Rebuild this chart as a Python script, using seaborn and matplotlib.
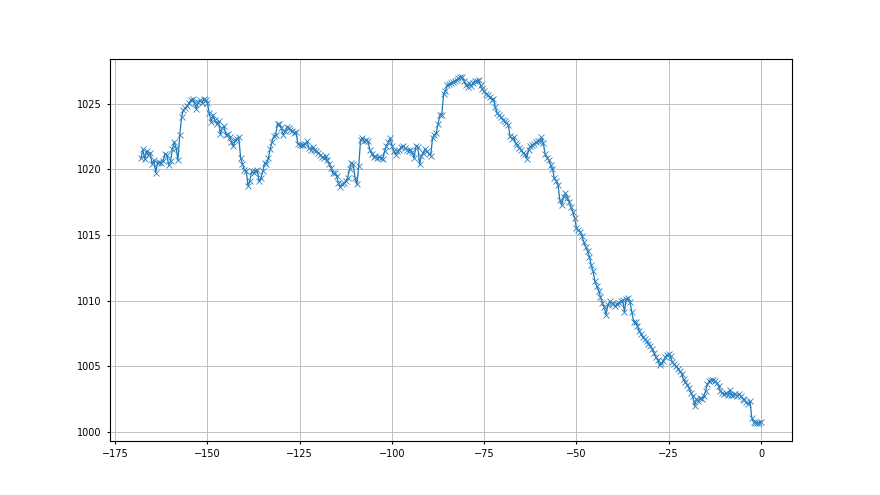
import numpy as np
import pandas as pd
import seaborn as sns
import matplotlib.pyplot as plt

# hours before now, half-hourly readings
hours = np.arange(-168, 0.5, 0.5)

# air pressure (hPa)
pressure = [
    1020.85, 1021.53, 1020.78, 1021.41, 1021.11, 1021.28, 1020.45, 1020.70, 1019.77, 1020.53, 1020.58, 1020.50,
    1020.65, 1021.21, 1021.11, 1020.33, 1020.65, 1021.53, 1022.11, 1021.66, 1020.70, 1022.61, 1023.99, 1024.55,
    1024.67, 1024.87, 1025.05, 1025.30, 1025.38, 1025.05, 1024.62, 1025.13, 1025.28, 1025.10, 1025.38, 1025.30,
    1025.05, 1024.30, 1023.62, 1024.12, 1023.79, 1023.47, 1023.72, 1022.71, 1023.17, 1023.29, 1022.66, 1022.71,
    1022.46, 1022.11, 1021.78, 1022.21, 1022.36, 1022.46, 1020.85, 1020.45, 1019.95, 1019.90, 1018.77, 1019.15,
    1019.85, 1019.70, 1019.90, 1019.95, 1019.10, 1019.35, 1019.85, 1020.50, 1020.45, 1020.85, 1021.53, 1022.11,
    1022.54, 1022.66, 1023.47, 1023.47, 1023.17, 1022.66, 1022.91, 1023.22, 1023.17, 1023.04, 1022.91, 1022.79,
    1022.86, 1021.96, 1021.88, 1021.86, 1021.86, 1021.97, 1022.15, 1021.64, 1021.52, 1021.69, 1021.52, 1021.39,
    1021.26, 1021.14, 1020.96, 1020.88, 1021.01, 1020.71, 1020.45, 1020.13, 1019.70, 1019.75, 1019.49, 1018.99,
    1018.69, 1018.86, 1018.94, 1019.12, 1019.37, 1020.00, 1020.51, 1020.38, 1019.37, 1018.86, 1020.25, 1022.27,
    1022.40, 1022.15, 1022.22, 1022.15, 1021.52, 1021.21, 1020.96, 1021.01, 1020.88, 1020.96, 1020.88, 1020.81,
    1021.39, 1021.77, 1022.07, 1022.40, 1021.82, 1021.39, 1021.14, 1021.39, 1021.46, 1021.72, 1021.82, 1021.64,
    1021.52, 1021.39, 1021.52, 1021.31, 1020.88, 1021.77, 1021.72, 1020.38, 1021.06, 1021.26, 1021.57, 1021.39,
    1021.21, 1021.06, 1022.40, 1022.65, 1022.78, 1023.48, 1024.17, 1024.17, 1025.76, 1026.01, 1026.44, 1026.52,
    1026.57, 1026.69, 1026.77, 1026.82, 1026.94, 1027.02, 1027.07, 1026.77, 1026.43, 1026.28, 1026.58, 1026.38,
    1026.61, 1026.73, 1026.73, 1026.79, 1026.43, 1026.10, 1025.97, 1025.77, 1025.66, 1025.51, 1025.33, 1025.41,
    1024.74, 1024.31, 1024.13, 1023.98, 1023.80, 1023.67, 1023.52, 1023.42, 1022.53, 1022.35, 1022.45, 1022.02,
    1021.84, 1021.63, 1021.51, 1021.25, 1021.17, 1020.82, 1021.51, 1021.76, 1021.84, 1021.94, 1022.09, 1022.14,
    1022.19, 1022.45, 1022.02, 1021.17, 1020.87, 1020.74, 1020.36, 1020.05, 1019.34, 1019.13, 1018.78, 1017.68,
    1017.30, 1017.93, 1018.19, 1017.86, 1017.55, 1017.17, 1016.79, 1016.28, 1015.51, 1015.38, 1015.26, 1014.95,
    1014.44, 1014.11, 1013.78, 1013.34, 1012.70, 1012.24, 1011.48, 1011.12, 1010.77, 1010.28, 1009.85, 1009.52,
    1008.93, 1009.64, 1009.95, 1009.85, 1009.74, 1009.59, 1009.74, 1009.85, 1009.95, 1010.03, 1009.16, 1010.13,
    1010.18, 1009.92, 1009.11, 1008.40, 1008.40, 1008.09, 1007.71, 1007.46, 1007.20, 1007.07, 1006.95, 1006.69,
    1006.56, 1006.31, 1006.01, 1005.67, 1005.50, 1005.09, 1005.22, 1005.39, 1005.67, 1005.85, 1005.90, 1005.75,
    1005.29, 1005.17, 1004.99, 1004.78, 1004.63, 1004.45, 1004.02, 1003.77, 1003.61, 1003.38, 1003.00, 1002.70,
    1001.98, 1002.49, 1002.37, 1002.60, 1002.54, 1002.70, 1003.13, 1003.64, 1003.89, 1003.97, 1003.94, 1003.87,
    1003.72, 1003.51, 1003.10, 1002.95, 1002.88, 1002.93, 1002.80, 1003.21, 1002.80, 1002.80, 1002.85, 1002.75,
    1002.88, 1002.75, 1002.54, 1002.44, 1002.24, 1002.11, 1002.34, 1001.09, 1000.76, 1000.71, 1000.66, 1000.69,
    1000.76,
]

df = pd.DataFrame({"hours": hours, "pressure": pressure})

plt.rcParams['xtick.labelsize'] = 7
plt.rcParams['ytick.labelsize'] = 7
plt.rcParams['xtick.major.size'] = 2.5
plt.rcParams['ytick.major.size'] = 2.5

fig, ax = plt.subplots(figsize=(8.8, 4.95), dpi=100)

sns.lineplot(data=df, x="hours", y="pressure", ax=ax, color="#1f77b4",
             linewidth=0.9, marker="x", markersize=4,
             markeredgecolor="#2b80c0", markeredgewidth=0.6)

ax.grid(True, color="#c0c0c0", linewidth=0.7)
ax.set_xlabel("")
ax.set_ylabel("")

fig.savefig("out.png")
